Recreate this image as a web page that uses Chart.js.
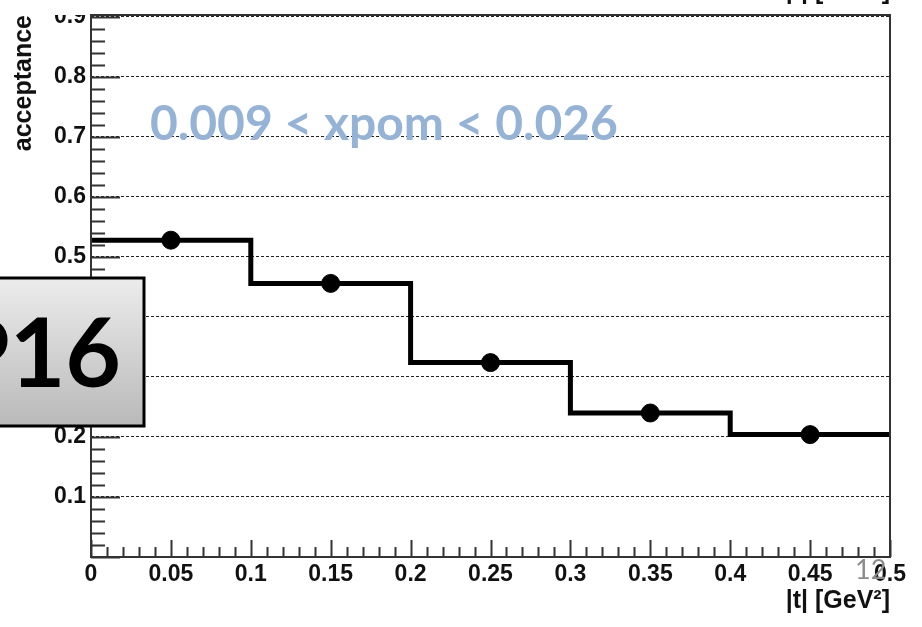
<!DOCTYPE html>
<html>
<head>
<meta charset="utf-8">
<script src="https://cdn.jsdelivr.net/npm/chart.js@4.4.0/dist/chart.umd.min.js"></script>
<style>
  html, body { margin: 0; padding: 0; background: #fff; }
  #wrap { width: 922px; height: 627px; position: relative; }
</style>
</head>
<body>
<div id="wrap"><canvas id="acceptanceChart"></canvas></div>
<script>
// DATA
const binEdges = [0, 0.1, 0.2, 0.3, 0.4, 0.5]
const binCentres = [0.05, 0.15, 0.25, 0.35, 0.45]
const acceptance = [0.528, 0.456, 0.324, 0.240, 0.204]
const xTickLabels = ['0', '0.05', '0.1', '0.15', '0.2', '0.25', '0.3', '0.35', '0.4', '0.45', '0.5']
const yTickLabels = ['', '0.1', '0.2', '0.3', '0.4', '0.5', '0.6', '0.7', '0.8', '0.9']
const rangeLabel = '0.009 < xpom < 0.026'
const padLabel = 'P16'
const slideNumber = '12'

Chart.defaults.font.family = "'Liberation Sans', Arial, sans-serif"
Chart.defaults.color = '#111'

// histogram outline: one point per bin edge, last value repeated to close the bin
const stepPoints = binEdges.map((x, i) => ({ x: x, y: acceptance[Math.min(i, acceptance.length - 1)] }))
const markerPoints = binCentres.map((x, i) => ({ x: x, y: acceptance[i] }))

const AXIS_COLOR = '#333'

// ROOT style frame: inward ticks, closed box, slide overlays
const rootFrame = {
    id: 'rootFrame',
    beforeDatasetsDraw(chart) {
        const ctx = chart.ctx
        const xs = chart.scales.x
        const ys = chart.scales.y
        const area = chart.chartArea
        ctx.save()
        ctx.strokeStyle = AXIS_COLOR
        ctx.lineWidth = 2
        ctx.beginPath()
        for (let k = 0; k <= 45; k++) {
            const v = k * 0.02
            const py = Math.round(ys.getPixelForValue(v)) + 0.5
            if (py < area.top) break
            const len = (k % 5 === 0) ? 29 : 14
            ctx.moveTo(area.left, py)
            ctx.lineTo(area.left + len, py)
        }
        for (let k = 0; k <= 50; k++) {
            const v = k * 0.01
            const px = Math.round(xs.getPixelForValue(v)) + 0.5
            const len = (k % 5 === 0) ? 17 : 10
            ctx.moveTo(px, area.bottom)
            ctx.lineTo(px, area.bottom - len)
        }
        ctx.stroke()
        ctx.restore()
    },
    afterDraw(chart) {
        const ctx = chart.ctx
        const area = chart.chartArea
        ctx.save()

        // page is cut just above the frame
        ctx.fillStyle = '#fff'
        ctx.fillRect(0, 0, chart.width, area.top)

        ctx.strokeStyle = AXIS_COLOR
        ctx.lineWidth = 2
        ctx.strokeRect(area.left, area.top, area.right - area.left, area.bottom - area.top)

        // leftover of the label above
        ctx.fillStyle = '#111'
        ctx.font = "bold 25px 'Liberation Sans'"
        ctx.textAlign = 'right'
        ctx.textBaseline = 'alphabetic'
        ctx.fillText('|t| [GeV²]', area.right, -1)

        // xpom range
        ctx.fillStyle = '#95b3d7'
        ctx.font = "bold 48px Lato"
        ctx.textAlign = 'left'
        ctx.fillText(rangeLabel, 150, 140)

        // detector tag
        const boxTop = 278, boxBottom = 426, boxRight = 144
        const grad = ctx.createLinearGradient(0, boxTop, 0, boxBottom)
        grad.addColorStop(0, '#ececec')
        grad.addColorStop(1, '#b9b9b9')
        ctx.fillStyle = grad
        ctx.fillRect(-5, boxTop, boxRight + 5, boxBottom - boxTop)
        ctx.strokeStyle = '#000'
        ctx.lineWidth = 3
        ctx.strokeRect(-5, boxTop, boxRight + 5, boxBottom - boxTop)
        ctx.fillStyle = '#000'
        ctx.font = "bold 96px Lato"
        ctx.textAlign = 'right'
        ctx.fillText(padLabel, 121, 387)

        // slide number
        ctx.fillStyle = '#8c8c8c'
        ctx.font = "27px Lato"
        ctx.textAlign = 'left'
        ctx.fillText(slideNumber, 855, 579)

        ctx.restore()
    }
}

const dataAcceptance = {
    datasets: [
        {
            label: 'acceptance',
            data: stepPoints,
            showLine: true,
            stepped: true,
            borderColor: '#000',
            borderWidth: 5,
            borderJoinStyle: 'miter',
            borderCapStyle: 'butt',
            pointRadius: 0,
            fill: false,
            order: 2
        },
        {
            label: 'points',
            data: markerPoints,
            showLine: false,
            pointRadius: 9,
            pointBorderWidth: 1,
            pointBackgroundColor: '#000',
            pointBorderColor: '#000',
            order: 1
        }
    ]
}

const configAcceptance = {
    type: 'scatter',
    data: dataAcceptance,
    options: {
        responsive: true,
        maintainAspectRatio: false,
        animation: false,
        layout: {
            padding: { top: 15, right: 32, left: 0, bottom: 0 }
        },
        scales: {
            x: {
                type: 'linear',
                min: 0,
                max: 0.5,
                afterFit: scale => {
                    scale.height = 70
                    scale.paddingLeft = 0
                    scale.paddingRight = 0
                },
                grid: { display: false, drawTicks: false },
                border: { display: false },
                ticks: {
                    stepSize: 0.05,
                    autoSkip: false,
                    maxRotation: 0,
                    padding: 4,
                    color: '#111',
                    font: { size: 23, weight: 'bold' },
                    callback: (value, index) => xTickLabels[index]
                },
                title: {
                    display: true,
                    text: '|t| [GeV²]',
                    align: 'end',
                    color: '#111',
                    font: { size: 25, weight: 'bold' },
                    padding: { top: 0, bottom: 11 }
                }
            },
            y: {
                type: 'linear',
                min: 0,
                max: 0.9033,
                afterFit: scale => {
                    scale.width = 91
                    scale.paddingTop = 0
                    scale.paddingBottom = 0
                },
                grid: {
                    drawTicks: false,
                    color: '#222',
                    lineWidth: 1
                },
                border: { display: false, dash: [3, 2] },
                ticks: {
                    stepSize: 0.1,
                    includeBounds: false,
                    padding: 5,
                    color: '#111',
                    font: { size: 23, weight: 'bold' },
                    callback: (value, index) => yTickLabels[index]
                },
                title: {
                    display: true,
                    text: 'acceptance',
                    align: 'end',
                    color: '#111',
                    font: { size: 25, weight: 'bold' },
                    padding: { top: 9, bottom: 0 }
                }
            }
        },
        plugins: {
            legend: { display: false },
            tooltip: { enabled: false }
        }
    },
    plugins: [rootFrame]
}

const acceptanceChart = new Chart(
    document.getElementById('acceptanceChart'),
    configAcceptance
)
</script>
</body>
</html>
